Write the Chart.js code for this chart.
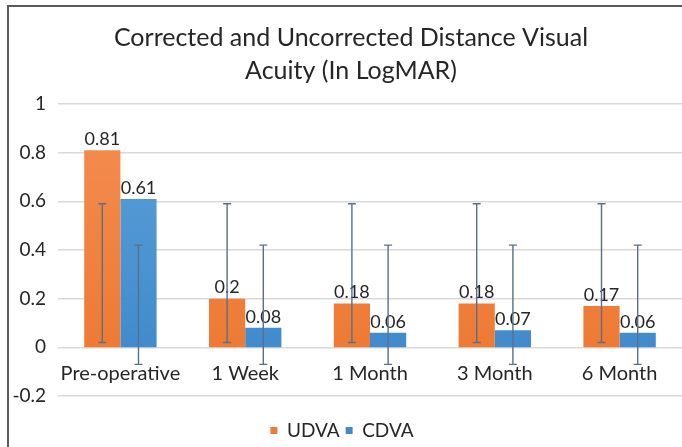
<!DOCTYPE html>
<html>
<head>
<meta charset="utf-8">
<script src="https://cdn.jsdelivr.net/npm/chart.js@4.4.1/dist/chart.umd.min.js"></script>
<style>
  html, body { margin: 0; padding: 0; background: #fff; overflow: hidden; }
  #wrap { position: relative; width: 682px; height: 447px; }
  #frame { position: absolute; left: 7px; top: 5px; right: 0; bottom: 0;
           border-left: 2px solid #5a5a5a; border-top: 2px solid #5a5a5a; pointer-events: none; }
</style>
</head>
<body>
<div id="wrap">
  <canvas id="myChart" width="682" height="447"></canvas>
  <div id="frame"></div>
</div>
<script>
// Categories and series
const categories = ['Pre-operative', '1 Week', '1 Month', '3 Month', '6 Month'];
const udva = [0.81, 0.2, 0.18, 0.18, 0.17];
const cdva = [0.61, 0.08, 0.06, 0.07, 0.06];

// Error bar ends (same for every category)
const udvaErrLow = [0.02, 0.02, 0.02, 0.02, 0.02];
const udvaErrHigh = [0.59, 0.59, 0.59, 0.59, 0.59];
const cdvaErrLow = [-0.07, -0.07, -0.07, -0.07, -0.07];
const cdvaErrHigh = [0.42, 0.42, 0.42, 0.42, 0.42];

// Y axis ticks
const yMin = -0.2;
const yMax = 1;
const yStep = 0.2;

const fontFamily = 'Lato, "Open Sans", sans-serif';
const textColor = '#262626';

// Light-to-dark fill, from the top of the plot down to the zero line
function barFill(light, dark) {
    return function(context) {
        const chart = context.chart;
        const area = chart.chartArea;
        if (!area || !chart.scales.y) return dark;
        const zero = chart.scales.y.getPixelForValue(0);
        const g = chart.ctx.createLinearGradient(0, area.top, 0, zero);
        g.addColorStop(0, light);
        g.addColorStop(1, dark);
        return g;
    };
}

// Draws value labels above each bar
const valueLabels = {
    id: 'valueLabels',
    afterDatasetsDraw(chart) {
        const ctx = chart.ctx;
        ctx.save();
        ctx.font = '18px ' + fontFamily;
        ctx.fillStyle = textColor;
        ctx.textAlign = 'center';
        ctx.textBaseline = 'bottom';
        chart.data.datasets.forEach(function(ds, i) {
            chart.getDatasetMeta(i).data.forEach(function(bar, j) {
                ctx.fillText(String(ds.data[j]), bar.x, bar.y - 2);
            });
        });
        ctx.restore();
    }
};

// Draws error bars from the low/high arrays
const errorBars = {
    id: 'errorBars',
    afterDatasetsDraw(chart) {
        const ctx = chart.ctx;
        const y = chart.scales.y;
        ctx.save();
        ctx.strokeStyle = '#5b6f8a';
        ctx.lineWidth = 1.4;
        chart.data.datasets.forEach(function(ds, i) {
            chart.getDatasetMeta(i).data.forEach(function(bar, j) {
                const top = y.getPixelForValue(ds.errHigh[j]);
                const bottom = y.getPixelForValue(ds.errLow[j]);
                ctx.beginPath();
                ctx.moveTo(bar.x, top);
                ctx.lineTo(bar.x, bottom);
                ctx.moveTo(bar.x - 4, top);
                ctx.lineTo(bar.x + 4, top);
                ctx.moveTo(bar.x - 4, bottom);
                ctx.lineTo(bar.x + 4, bottom);
                ctx.stroke();
            });
        });
        ctx.restore();
    }
};

// Nudge title right and legend left to sit where the reference has them
const boxShift = {
    id: 'boxShift',
    afterLayout(chart) {
        chart.titleBlock.left += 6;
        chart.titleBlock.right += 6;
        chart.legend.left -= 3;
        chart.legend.right -= 3;
    }
};

const ctx = document.getElementById('myChart').getContext('2d');
const myChart = new Chart(ctx, {
    type: 'bar',
    data: {
        labels: categories,
        datasets: [
            {
                label: 'UDVA',
                data: udva,
                errLow: udvaErrLow,
                errHigh: udvaErrHigh,
                backgroundColor: barFill('#f48e52', '#ee7a34'),
                categoryPercentage: 0.58,
                barPercentage: 1,
            },
            {
                label: 'CDVA',
                data: cdva,
                errLow: cdvaErrLow,
                errHigh: cdvaErrHigh,
                backgroundColor: barFill('#5ea1da', '#418bcd'),
                categoryPercentage: 0.58,
                barPercentage: 1,
            },
        ],
    },
    options: {
        responsive: false,
        animation: false,
        layout: {
            padding: { left: 8, right: 0, top: 22, bottom: -3 }
        },
        plugins: {
            title: {
                display: true,
                text: ['Corrected and Uncorrected Distance Visual', 'Acuity (In LogMAR)'],
                color: textColor,
                font: { family: fontFamily, size: 25, weight: 'normal', lineHeight: 1.3 },
                padding: { top: 0, bottom: 17 },
            },
            legend: {
                position: 'bottom',
                title: {
                    display: true,
                    text: '',
                    font: { size: 1, lineHeight: 1 },
                    padding: { top: 0, bottom: 18 },
                },
                labels: {
                    color: textColor,
                    font: { family: fontFamily, size: 19 },
                    boxWidth: 7,
                    boxHeight: 7,
                    padding: 6,
                },
            },
            tooltip: { enabled: false },
        },
        scales: {
            x: {
                position: { y: 0 },
                grid: { display: false, drawTicks: false },
                border: { display: false },
                ticks: {
                    color: textColor,
                    font: { family: fontFamily, size: 20 },
                    padding: 14,
                    maxRotation: 0,
                },
            },
            y: {
                min: yMin,
                max: yMax,
                border: { display: false },
                grid: { color: '#d9d9d9', lineWidth: 1.5, drawTicks: false },
                afterFit: function(scale) { scale.width = 50; },
                ticks: {
                    stepSize: yStep,
                    color: textColor,
                    font: { family: fontFamily, size: 19 },
                    padding: 12,
                    callback: function(value) {
                        return String(Math.round(value * 10) / 10);
                    },
                },
            },
        },
    },
    plugins: [valueLabels, errorBars, boxShift],
});
</script>
</body>
</html>
